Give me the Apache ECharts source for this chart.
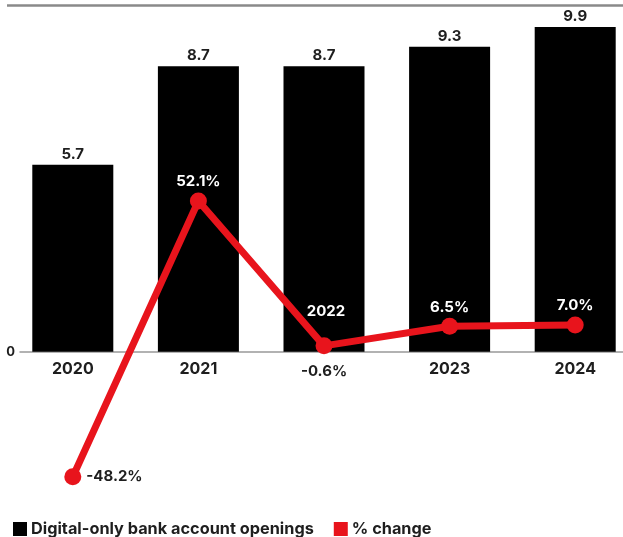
<!DOCTYPE html>
<html>
<head>
<meta charset="utf-8">
<script src="https://cdn.jsdelivr.net/npm/echarts@6/dist/echarts.min.js"></script>
<style>html,body{margin:0;padding:0;background:#fff;}#c{width:623px;height:537px;}</style>
</head>
<body>
<div id="c"></div>
<script>
const categories = ['2020', '2021', '2022', '2023', '2024'];
const openings = [5.7, 8.7, 8.7, 9.3, 9.9];
const pctChange = [-48.2, 52.1, -0.6, 6.5, 7.0];
const seriesNames = ['Digital-only bank account openings', '% change'];

const FONT = 'Inter';
const RED = '#e8141c';
const INK = '#1e1e1e';

// label placement per point of the % change line
const pctLabelPos = ['right', 'top', 'bottom', 'top', 'top'];
const pctLabelColor = [INK, '#ffffff', INK, '#ffffff', '#ffffff'];
const pctLabelDist = [5, 3, 10, 3, 3];

const lineData = pctChange.map((v, i) => ({
  value: v,
  label: { position: pctLabelPos[i], color: pctLabelColor[i], distance: pctLabelDist[i] }
}));

const chart = echarts.init(document.getElementById('c'), null, { renderer: 'canvas' });
const gridTop = 23.7, gridHeight = 328;
chart.setOption({
  animation: false,
  backgroundColor: '#fff',
  textStyle: { fontFamily: FONT },
  graphic: [{
    type: 'line', shape: { x1: 7, y1: 5.5, x2: 623, y2: 5.5 },
    style: { stroke: '#8a8a8a', lineWidth: 2.5 }
  }],
  grid: [
    { left: 10, width: 628, top: gridTop, height: gridHeight, containLabel: false, outerBoundsMode: 'none' },
    { left: 20, width: 603, top: gridTop, height: gridHeight, containLabel: false, outerBoundsMode: 'none' }
  ],
  legend: {
    left: 8, top: 516, itemGap: 20, itemWidth: 14, itemHeight: 14, icon: 'rect',
    textStyle: { fontFamily: FONT, fontSize: 16.3, fontWeight: 'bold', color: INK, padding: [0, 0, 0, -1] },
    data: [{ name: seriesNames[0], itemStyle: { color: '#000' } }, { name: seriesNames[1], itemStyle: { color: RED } }]
  },
  xAxis: [{
    type: 'category', data: categories, gridIndex: 0,
    axisLine: { show: false }, axisTick: { show: false },
    axisLabel: {
      margin: 9, fontFamily: FONT, fontSize: 16, fontWeight: 'bold', color: INK,
      formatter: (v, i) => (i === 2 ? '' : v)
    }
  }, {
    type: 'value', gridIndex: 1, min: 0, max: 1,
    axisLine: { show: true, lineStyle: { color: '#999', width: 1.5 } },
    axisTick: { show: false }, axisLabel: { show: false }, splitLine: { show: false }
  }],
  yAxis: [{
    type: 'value', gridIndex: 0, min: 0, max: 10, interval: 10,
    axisLine: { show: false }, axisTick: { show: false }, splitLine: { show: false },
    axisLabel: { margin: -5, fontFamily: FONT, fontSize: 13, fontWeight: 'bold', color: INK,
      formatter: v => (v === 0 ? '0' : '') }
  }, {
    type: 'value', gridIndex: 0, min: -2.73, max: 116.59, show: false
  }, {
    type: 'value', gridIndex: 1, min: 0, max: 1, show: false
  }],
  series: [{
    name: seriesNames[0], type: 'bar', data: openings, xAxisIndex: 0, yAxisIndex: 0,
    barWidth: '64.5%', itemStyle: { color: '#000' },
    label: { show: true, position: 'top', distance: 3, fontFamily: FONT, fontSize: 15, fontWeight: 'bold', color: INK }
  }, {
    name: seriesNames[1], type: 'line', data: lineData, xAxisIndex: 0, yAxisIndex: 1,
    clip: false, z: 5,
    lineStyle: { color: RED, width: 7 }, itemStyle: { color: RED },
    symbol: 'circle', symbolSize: 17, showAllSymbol: true,
    label: { show: true, fontFamily: FONT, fontSize: 15, fontWeight: 'bold', formatter: p => p.value.toFixed(1) + '%' },
    markPoint: {
      symbol: 'circle', symbolSize: 1, itemStyle: { color: 'rgba(0,0,0,0)' },
      label: { show: true, position: 'inside', offset: [2, -34], color: '#fff', fontFamily: FONT, fontSize: 15, fontWeight: 'bold', formatter: p => p.name },
      data: [{ name: categories[2], coord: [categories[2], pctChange[2]] }]
    }
  }]
});
</script>
</body>
</html>
